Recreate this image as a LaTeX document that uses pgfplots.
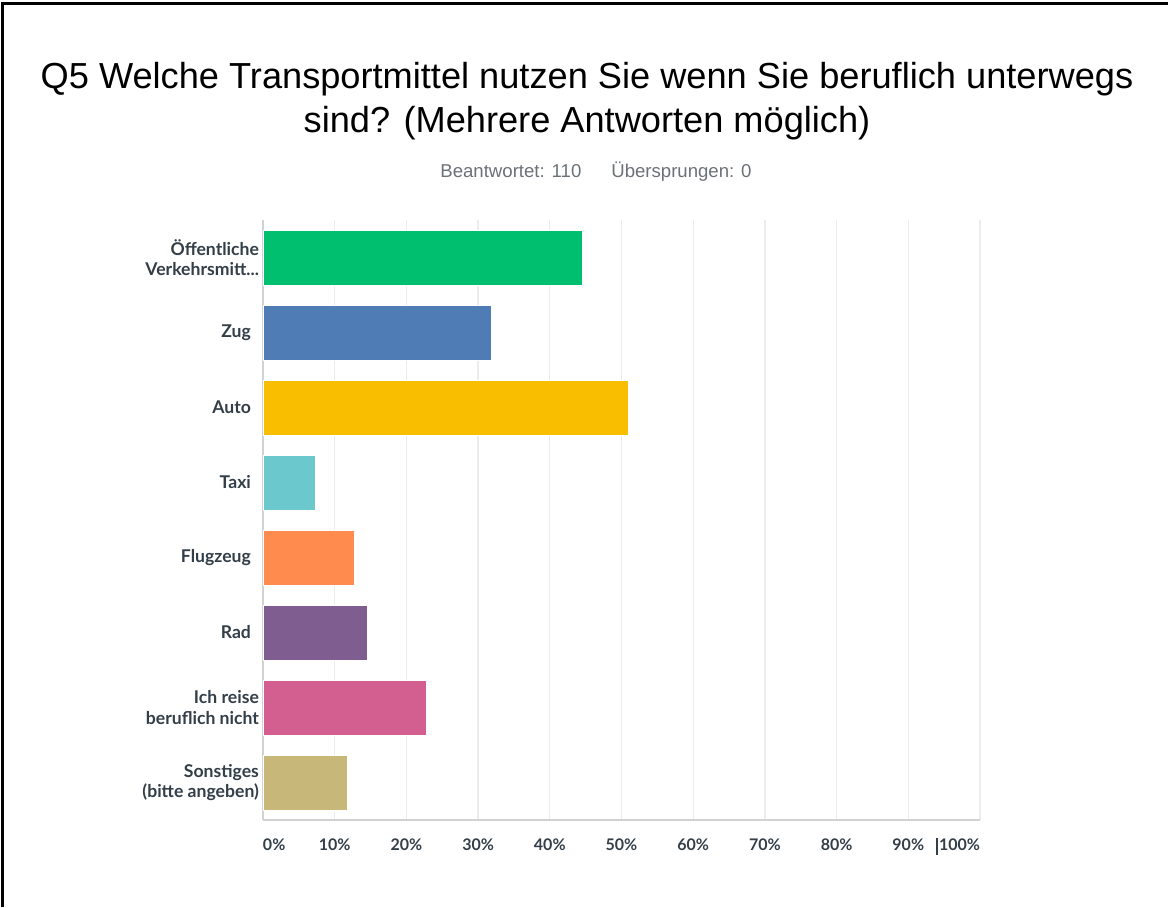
\documentclass[border=0pt]{standalone}
\usepackage{pgfplots}
\pgfplotsset{compat=1.18}
\usepackage{fontspec}
\setmainfont{Liberation Sans}
\newfontfamily\labelfont{Lato}

\definecolor{cOeff}{HTML}{00BF6F}
\definecolor{cZug}{HTML}{507CB6}
\definecolor{cAuto}{HTML}{F9BE00}
\definecolor{cTaxi}{HTML}{6BC8CD}
\definecolor{cFlug}{HTML}{FF8B4F}
\definecolor{cRad}{HTML}{7F5D90}
\definecolor{cNicht}{HTML}{D25F90}
\definecolor{cSonst}{HTML}{C7B879}
\definecolor{txt}{HTML}{333E48}
\definecolor{subgray}{HTML}{6B7177}
\definecolor{axisgray}{HTML}{D0D2D3}
\definecolor{gridgray}{HTML}{ECECEC}

\begin{document}
\begin{tikzpicture}[x=1pt,y=1pt]
\useasboundingbox (-131.5,-43.5) rectangle (452.5,410);
% frame (top and left only visible)
\draw[line width=1.5pt, black] (-130,-43.5) -- (-130,408) -- (452.5,408);

% title and subtitle
\node[anchor=base, font=\fontsize{18.1}{21}\selectfont] at (162,365.5)
  {Q5 Welche Transportmittel nutzen Sie wenn Sie beruflich unterwegs};
\node[anchor=base, font=\fontsize{18.1}{21}\selectfont] at (162,343.5)
  {sind? (Mehrere Antworten möglich)};
\node[anchor=base, font=\fontsize{9.3}{11}\selectfont, text=subgray] at (166.5,321)
  {Beantwortet: 110\hspace{15pt}Übersprungen: 0};

\begin{axis}[
  at={(0,0)}, anchor=south west,
  width=358.5pt, height=300pt, scale only axis,
  xbar, bar width=27.5pt, bar shift=0pt,
  xmin=0, xmax=100, ymin=-0.5, ymax=7.5,
  xtick={0,10,20,30,40,50,60,70,80,90,100},
  xticklabels={{\phantom{0\%}0\%},10\%,20\%,30\%,40\%,50\%,60\%,70\%,80\%,90\%,{100\%\phantom{100\%}}},
  ytick={0,1,2,3,4,5,6,7},
  yticklabels={{Sonstiges\\(bitte angeben)},{Ich reise\\beruflich nicht},{Rad\hspace{4pt}},{Flugzeug\hspace{4pt}},{Taxi\hspace{4pt}},{Auto\hspace{4pt}},{Zug\hspace{4pt}},{Öffentliche\\Verkehrsmitt.{}.{}.}},
  axis x line*=bottom, axis y line*=left,
  axis line style={draw=axisgray, line width=1.1pt, -},
  major tick length=0pt,
  xmajorgrids, grid style={draw=gridgray, line width=0.6pt},
  yticklabel style={align=right, font=\labelfont\bfseries\fontsize{8.8}{10.2}\selectfont, text=txt, xshift=1.5pt},
  xticklabel style={font=\labelfont\bfseries\fontsize{8}{10}\selectfont, text=txt, yshift=-6pt},
  every axis plot/.append style={draw=white, line width=0.4pt},
]
\addplot[fill=cOeff] coordinates {(44.55,7)};
\addplot[fill=cZug] coordinates {(31.82,6)};
\addplot[fill=cAuto] coordinates {(50.91,5)};
\addplot[fill=cTaxi] coordinates {(7.27,4)};
\addplot[fill=cFlug] coordinates {(12.73,3)};
\addplot[fill=cRad] coordinates {(14.55,2)};
\addplot[fill=cNicht] coordinates {(22.73,1)};
\addplot[fill=cSonst] coordinates {(11.82,0)};
\end{axis}
% text cursor mark seen before the 100% label
\draw[line width=0.7pt, txt] (337,-9) -- (337,-17.5);
\end{tikzpicture}
\end{document}
